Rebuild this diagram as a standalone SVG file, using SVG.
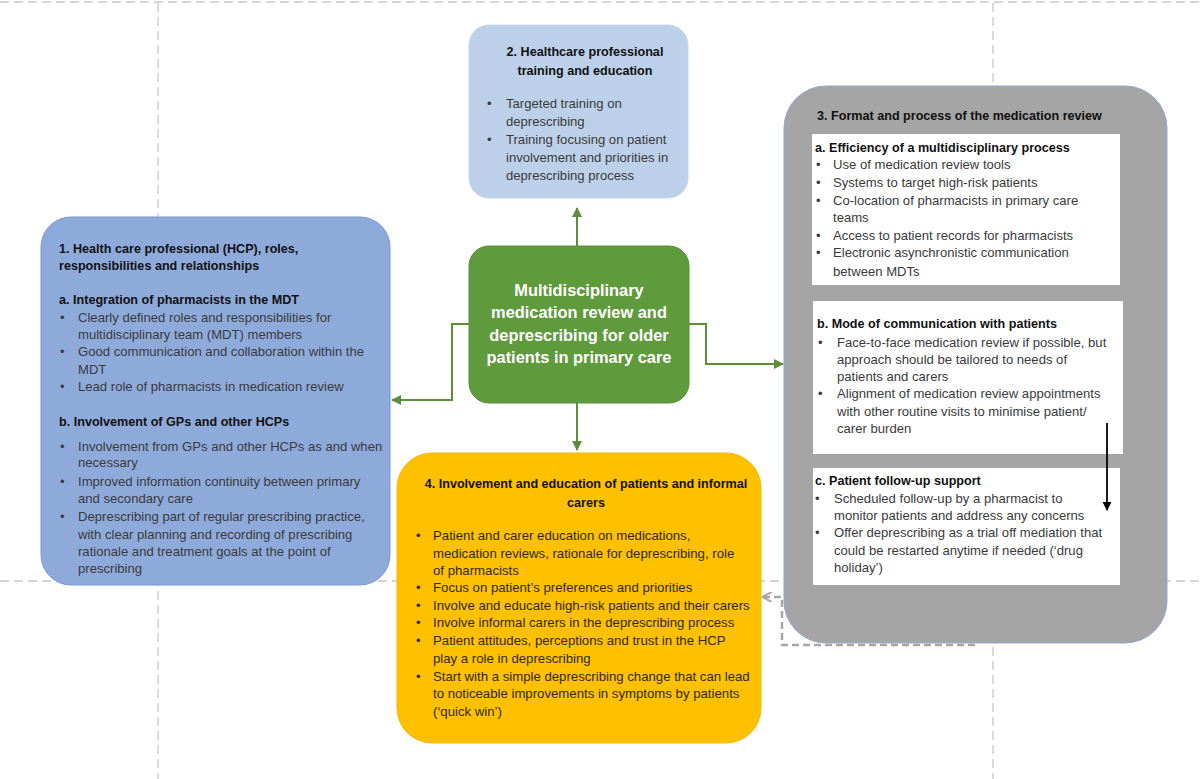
<svg xmlns="http://www.w3.org/2000/svg" width="1200" height="779" viewBox="0 0 1200 779">
<style>
text{font-family:"Liberation Sans",Arial,sans-serif;}
.h{font-size:12.6px;font-weight:bold;fill:#111;}
.b{font-size:13.1px;fill:#3a3a3a;}
.by{font-size:13.2px;fill:#2e2a10;}
.ct{font-size:16.4px;font-weight:bold;fill:#fff;text-anchor:middle;}
.grid{stroke:#c8c8c8;stroke-width:1.3;stroke-dasharray:9 5;fill:none;}
.conn{stroke:#5b8f3a;stroke-width:2;fill:none;}
</style>
<defs>
<marker id="ga" viewBox="0 0 10 10" refX="9" refY="5" markerWidth="5" markerHeight="5" orient="auto"><path d="M0,0 L10,5 L0,10 z" fill="#5b8f3a"/></marker>
<marker id="ka" viewBox="0 0 10 10" refX="9" refY="5" markerWidth="5" markerHeight="6" orient="auto"><path d="M0,0 L10,5 L0,10 z" fill="#000"/></marker>
<marker id="gr" viewBox="0 0 10 10" refX="9" refY="5" markerWidth="4" markerHeight="4" orient="auto"><path d="M0,0 L10,5 L0,10" fill="none" stroke="#a6a6a6" stroke-width="2"/></marker>
</defs>
<rect width="1200" height="779" fill="#fff"/>
<g id="grid">
<line class="grid" x1="0" y1="2" x2="1200" y2="2"/>
<line class="grid" x1="0" y1="581" x2="1200" y2="581"/>
<line class="grid" x1="158" y1="3" x2="158" y2="779"/>
<line class="grid" x1="993" y1="3" x2="993" y2="779"/>
</g>
<g id="connectors">
<path class="conn" d="M577,246 V208" marker-end="url(#ga)"/>
<path class="conn" d="M469,324 H452 V400 H392" marker-end="url(#ga)"/>
<path class="conn" d="M689,324 H706 V364 H783" marker-end="url(#ga)"/>
<path class="conn" d="M577,403 V450" marker-end="url(#ga)"/>
<path d="M975,645 H782 V597 H763" fill="none" stroke="#a6a6a6" stroke-width="2.5" stroke-dasharray="7 4" marker-end="url(#gr)"/>
</g>
<g id="node2">
<rect x="469" y="25" width="219" height="173" rx="20" fill="#bdd0e9" stroke="#c8d7ec"/>
<text class="h" text-anchor="middle" x="585" y="56">2. Healthcare professional</text>
<text class="h" text-anchor="middle" x="585" y="75">training and education</text>
<text class="b"><tspan x="487" y="108">•</tspan><tspan x="506" y="108">Targeted training on</tspan><tspan x="506" y="126">deprescribing</tspan><tspan x="487" y="144">•</tspan><tspan x="506" y="144">Training focusing on patient</tspan><tspan x="506" y="162">involvement and priorities in</tspan><tspan x="506" y="180">deprescribing process</tspan></text>
</g>
<g id="node1">
<rect x="41" y="217" width="349" height="368" rx="30" fill="#8eaadb" stroke="#7a98cf"/>
<text class="h"><tspan x="59" y="253">1. Health care professional (HCP), roles,</tspan><tspan x="59" y="270">responsibilities and relationships</tspan><tspan x="59" y="304">a. Integration of pharmacists in the MDT</tspan><tspan x="59" y="426">b. Involvement of GPs and other HCPs</tspan></text>
<text class="b"><tspan x="60" y="322">•</tspan><tspan x="78" y="322">Clearly defined roles and responsibilities for</tspan><tspan x="78" y="339">multidisciplinary team (MDT) members</tspan><tspan x="60" y="356">•</tspan><tspan x="78" y="356">Good communication and collaboration within the</tspan><tspan x="78" y="374">MDT</tspan><tspan x="60" y="391">•</tspan><tspan x="78" y="391">Lead role of pharmacists in medication review</tspan><tspan x="60" y="451">•</tspan><tspan x="78" y="451">Involvement from GPs and other HCPs as and when</tspan><tspan x="78" y="467">necessary</tspan><tspan x="60" y="486">•</tspan><tspan x="78" y="486">Improved information continuity between primary</tspan><tspan x="78" y="503">and secondary care</tspan><tspan x="60" y="521">•</tspan><tspan x="78" y="521">Deprescribing part of regular prescribing practice,</tspan><tspan x="78" y="539">with clear planning and recording of prescribing</tspan><tspan x="78" y="556">rationale and treatment goals at the point of</tspan><tspan x="78" y="573">prescribing</tspan></text>
</g>
<g id="center">
<rect x="469" y="246" width="220" height="157" rx="20" fill="#5f9a3c" stroke="#578f36"/>
<text class="ct"><tspan x="579" y="296">Multidisciplinary</tspan><tspan x="579" y="318">medication review and</tspan><tspan x="579" y="341">deprescribing for older</tspan><tspan x="579" y="363">patients in primary care</tspan></text>
</g>
<g id="node3">
<rect x="784" y="86" width="383" height="557" rx="42" fill="#a5a5a5" stroke="#8fa8d0"/>
<text class="h" x="817" y="120">3. Format and process of the medication review</text>
<rect x="812" y="134" width="308" height="151" fill="#fff"/>
<rect x="813" y="301" width="310" height="153" fill="#fff"/>
<rect x="813" y="468" width="307" height="117" fill="#fff"/>
<text class="h"><tspan x="815" y="152">a. Efficiency of a multidisciplinary process</tspan><tspan x="817" y="328">b. Mode of communication with patients</tspan><tspan x="815" y="485">c. Patient follow-up support</tspan></text>
<text class="b"><tspan x="816" y="169">•</tspan><tspan x="833" y="169">Use of medication review tools</tspan><tspan x="816" y="187">•</tspan><tspan x="833" y="187">Systems to target high-risk patients</tspan><tspan x="816" y="205">•</tspan><tspan x="833" y="205">Co-location of pharmacists in primary care</tspan><tspan x="833" y="222">teams</tspan><tspan x="816" y="240">•</tspan><tspan x="833" y="240">Access to patient records for pharmacists</tspan><tspan x="816" y="257">•</tspan><tspan x="833" y="257">Electronic asynchronistic communication</tspan><tspan x="833" y="276">between MDTs</tspan>
<tspan x="818" y="347">•</tspan><tspan x="837" y="347">Face-to-face medication review if possible, but</tspan><tspan x="837" y="364">approach should be tailored to needs of</tspan><tspan x="837" y="381">patients and carers</tspan><tspan x="818" y="398">•</tspan><tspan x="837" y="398">Alignment of medication review appointments</tspan><tspan x="837" y="416">with other routine visits to minimise patient/</tspan><tspan x="837" y="433">carer burden</tspan>
<tspan x="815" y="503">•</tspan><tspan x="834" y="503">Scheduled follow-up by a pharmacist to</tspan><tspan x="834" y="520">monitor patients and address any concerns</tspan><tspan x="815" y="537">•</tspan><tspan x="834" y="537">Offer deprescribing as a trial off mediation that</tspan><tspan x="834" y="555">could be restarted anytime if needed (‘drug</tspan><tspan x="834" y="572">holiday’)</tspan></text>
<path d="M1107,423 V510" stroke="#000" stroke-width="1.8" fill="none" marker-end="url(#ka)"/>
</g>
<g id="node4">
<rect x="397" y="453" width="364" height="290" rx="35" fill="#ffc000" stroke="#f5b800"/>
<text class="h" text-anchor="middle"><tspan x="586" y="488">4. Involvement and education of patients and informal</tspan><tspan x="586" y="507">carers</tspan></text>
<text class="by"><tspan x="416" y="540">•</tspan><tspan x="433" y="540">Patient and carer education on medications,</tspan><tspan x="433" y="558">medication reviews, rationale for deprescribing, role</tspan><tspan x="433" y="575">of pharmacists</tspan><tspan x="416" y="592">•</tspan><tspan x="433" y="592">Focus on patient’s preferences and priorities</tspan><tspan x="416" y="610">•</tspan><tspan x="433" y="610">Involve and educate high-risk patients and their carers</tspan><tspan x="416" y="627">•</tspan><tspan x="433" y="627">Involve informal carers in the deprescribing process</tspan><tspan x="416" y="645">•</tspan><tspan x="433" y="645">Patient attitudes, perceptions and trust in the HCP</tspan><tspan x="433" y="663">play a role in deprescribing</tspan><tspan x="416" y="681">•</tspan><tspan x="433" y="681">Start with a simple deprescribing change that can lead</tspan><tspan x="433" y="698">to noticeable improvements in symptoms by patients</tspan><tspan x="433" y="716">(‘quick win’)</tspan></text>
</g>
</svg>
